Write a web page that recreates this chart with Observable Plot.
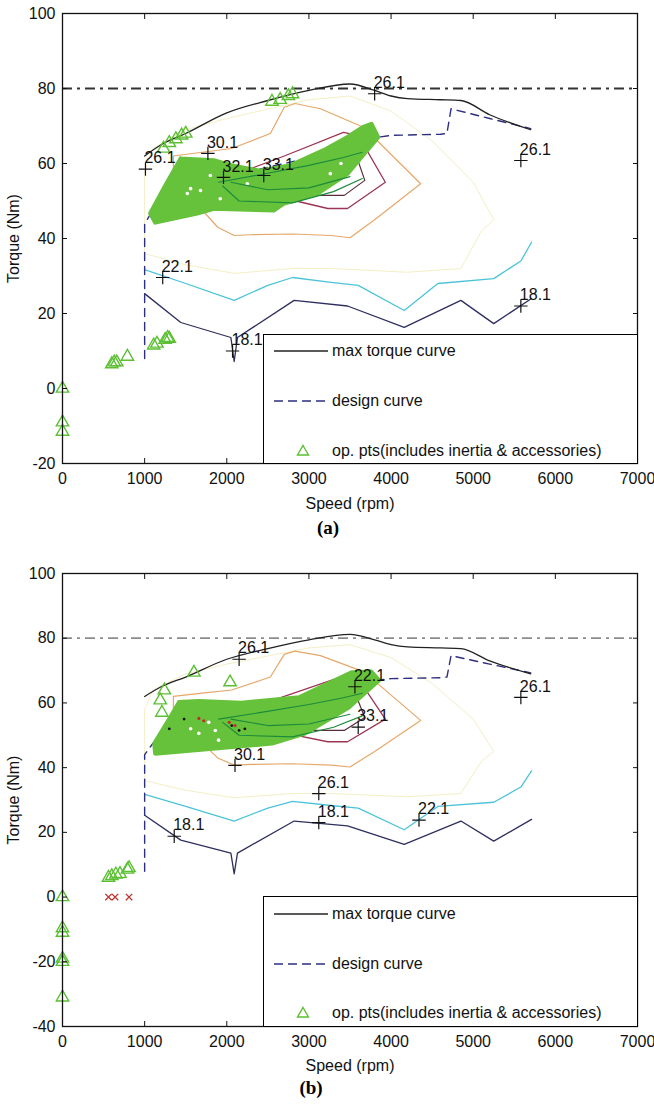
<!DOCTYPE html>
<html>
<head>
<meta charset="utf-8">
<script src="https://cdn.jsdelivr.net/npm/d3@7"></script>
<script src="https://cdn.jsdelivr.net/npm/@observablehq/plot@0.6"></script>
<style>
  body { margin: 0; background: #fff; font-family: "Liberation Sans", Arial, sans-serif; }
  #page { position: relative; width: 654px; height: 1104px; overflow: hidden; background: #fff; }
  .panel { position: absolute; left: 0; }
  .legend { position: absolute; border: 1px solid #000; background: #fff; box-sizing: border-box; }
  .legend .row { position: absolute; left: 0; height: 20px; width: 100%; }
  .legend .row svg { position: absolute; left: 0; top: 0; }
  .legend .row span { position: absolute; left: 68px; top: 0; line-height: 20px; font-size: 16px; color: #111; white-space: nowrap; }
  .cap { position: absolute; font-family: "Liberation Serif", "Times New Roman", serif; font-weight: bold; font-size: 19px; transform: translate(-50%, -50%); }
</style>
</head>
<body>
<div id="page"></div>
<script>
// ---------- axes ----------
const xTicks = [0, 1000, 2000, 3000, 4000, 5000, 6000, 7000];
const yTicksA = [-20, 0, 20, 40, 60, 80, 100];
const yTicksB = [-40, -20, 0, 20, 40, 60, 80, 100];
const refTorque = [80];

// ---------- shared curves (speed rpm, torque Nm) ----------
const maxTorqueSpeed = [1000, 1200, 1500, 2000, 2500, 3000, 3500, 3800, 4000, 4200, 4600, 4850, 5200, 5700];
const maxTorqueNm    = [62, 65, 68, 73.5, 76.8, 79.5, 81.2, 79.5, 78, 77.3, 77, 76.8, 73, 69];

const designSpeed = [1000, 1000, 1100, 1400, 1800, 2300, 2800, 3300, 3700, 3840, 4000, 4600, 4680, 4730, 5200, 5700];
const designNm    = [8, 44, 47.5, 52, 55, 58, 60.5, 63, 65, 67, 67.5, 67.8, 68, 74.6, 72, 69.3];

const orangeSpeed = [1350, 1350, 1700, 2060, 2530, 2700, 2830, 3140, 3670, 4360, 3800, 3500, 3270, 2800, 2290, 2090, 1890, 1600, 1350];
const orangeNm    = [58, 62, 63, 64, 68, 75, 76, 74.6, 69.6, 54.6, 45, 40.2, 40.8, 41.2, 41, 40.8, 43, 50, 58];

const maroonSpeed = [2010, 2700, 3420, 3600, 3930, 3470, 3230, 2650, 2200, 2010];
const maroonNm    = [56.3, 62, 68.3, 67.5, 55, 48, 48, 51, 54, 56.3];

const innerSpeed = [2100, 2800, 3450, 3570, 3680, 3430, 3000, 2500, 2100];
const innerNm    = [55, 58.5, 62, 62.5, 55.5, 51.5, 51.5, 52.5, 55];

const yellowSpeed = [1000, 1000, 1100, 1500, 2000, 3000, 3500, 4000, 4500, 5000, 5250, 5100, 4850, 4200, 3270, 2800, 2090, 1500, 1000];
const yellowNm    = [36, 58, 64, 69, 72, 77, 78, 74, 66, 55, 45, 42, 32, 31, 32, 32, 30.7, 33, 36];

const cyanSpeed = [1000, 1500, 2090, 2500, 2800, 3270, 3600, 4160, 4570, 5250, 5580, 5710];
const cyanNm    = [31.7, 28, 23.5, 27.5, 29.6, 28.3, 27.5, 20.8, 28, 29.3, 34, 39];

const navySpeed = [1000, 1440, 2050, 2090, 2130, 2820, 3470, 4160, 4850, 5250, 5710];
const navyNm    = [25.3, 17.6, 13.6, 7.2, 13.6, 23.5, 22, 16.3, 23.5, 17.3, 24];

const green1Speed = [1900, 2400, 3000, 3420, 3650];
const green1Nm    = [55, 57, 59.5, 61.6, 63];
const green2Speed = [1950, 2150, 2800, 3300, 3650];
const green2Nm    = [54, 50, 49.5, 52.5, 56];
const green3Speed = [2050, 2500, 3000, 3500];
const green3Nm    = [55, 53, 53.5, 56.5];

// ---------- panel (a) ----------
const bandASpeed = [1440, 1840, 2050, 2400, 2780, 3180, 3470, 3670, 3760, 3840, 3670, 3470, 3100, 2690, 2570, 1840, 1640, 1130, 1070, 1250];
const bandANm    = [61.3, 60.8, 59.5, 58, 59.5, 63.5, 67, 69.8, 70.5, 67, 62.6, 57.3, 52, 49.3, 47.5, 48, 46.7, 44.3, 46.7, 54];

const opASpeed = [1230, 1300, 1380, 1450, 1500, 2550, 2650, 2750, 2800, 600, 630, 660, 790, 1110, 1150, 1250, 1280, 1300, 0, 0, 0];
const opANm    = [64, 65.5, 66.5, 67.5, 68, 76.5, 77, 78, 78.5, 6.5, 7, 7, 8.5, 11.5, 12, 13, 13.5, 13.3, 0, -9, -11.5];

const holeASpeed = [1560, 1680, 1800, 1920, 1520, 3260, 3390, 2250];
const holeANm    = [53.3, 52.8, 56.8, 50.6, 52, 57.3, 60, 54.6];

const plusASpeed = [1010, 1770, 1960, 2450, 3800, 5580, 1220, 2070, 5580];
const plusANm    = [58.5, 62.7, 56.3, 56.8, 78.6, 60.8, 29.6, 10, 22];
const plusALabel = ["26.1", "30.1", "32.1", "33.1", "26.1", "26.1", "22.1", "18.1", "18.1"];

// ---------- panel (b) ----------
const bandBSpeed = [1420, 1660, 2180, 2880, 3520, 3760, 3850, 3480, 2950, 2550, 1860, 1130, 1120, 1300];
const bandBNm    = [60.2, 60.5, 60, 61.7, 69.4, 69.6, 67, 58.6, 50.6, 47.5, 46, 44.4, 47.5, 55];

const opBSpeed = [1240, 1190, 1210, 1600, 2040, 560, 600, 650, 700, 790, 810, 0, 0, 0, 0, 0, 0];
const opBNm    = [63.9, 60.8, 57, 69.4, 66.4, 6, 6.5, 7, 7.2, 8.5, 9, 0, -9.6, -11, -19, -20, -31];

const crossBSpeed = [560, 640, 810];
const crossBNm    = [0, 0, 0];

const holeBSpeed = [1780, 1860, 1660, 1900, 1560];
const holeBNm    = [54, 51.5, 50.6, 48.5, 52];
const redBSpeed = [1660, 2030, 2100, 1720];
const redBNm    = [55.2, 54, 53, 54.5];
const blackBSpeed = [2220, 1300, 1480, 2060, 2150];
const blackBNm    = [52, 52, 55, 53, 51.5];

const plusBSpeed = [2150, 3560, 3600, 5580, 2100, 3120, 3120, 4340, 1360];
const plusBNm    = [73.5, 65, 52.5, 61.7, 40.7, 32, 23, 23.8, 18.8];
const plusBLabel = ["26.1", "22.1", "33.1", "26.1", "30.1", "26.1", "18.1", "22.1", "18.1"];

// ---------- legend ----------
const legendLabels = ["max torque curve", "design curve", "op. pts(includes inertia & accessories)"];

// ---------- helpers ----------
const pts = (xs, ys, extra) => xs.map((x, i) => ({x, y: ys[i], ...(extra ? {label: extra[i]} : {})}));
const closed = (xs, ys) => { const p = pts(xs, ys); p.push(p[0]); return p; };

const GREEN = "#66c23a";
const TRI = "#5cbf34";

function makePanel(o) {
  return Plot.plot({
    width: 654,
    height: o.height,
    marginLeft: 62,
    marginRight: 17,
    marginTop: o.marginTop,
    marginBottom: o.marginBottom,
    style: {fontFamily: "'Liberation Sans', Arial, sans-serif", fontSize: "16px", color: "#111", background: "transparent", overflow: "visible"},
    x: {domain: [0, 7000]},
    y: {domain: o.yDomain},
    marks: [
      Plot.line(closed(yellowSpeed, yellowNm), {x: "x", y: "y", stroke: "#f4efc6", strokeWidth: 1}),
      Plot.line(pts(cyanSpeed, cyanNm), {x: "x", y: "y", stroke: "#4cc3d9", strokeWidth: 1.3}),
      Plot.line(pts(navySpeed, navyNm), {x: "x", y: "y", stroke: "#2e2f5e", strokeWidth: 1.3}),
      Plot.line(closed(orangeSpeed, orangeNm), {x: "x", y: "y", stroke: "#e6a76a", strokeWidth: 1.2}),
      Plot.line(closed(maroonSpeed, maroonNm), {x: "x", y: "y", stroke: "#9c3553", strokeWidth: 1.3}),
      Plot.line(closed(innerSpeed, innerNm), {x: "x", y: "y", stroke: "#5a2b3b", strokeWidth: 1.2}),
      Plot.ruleY(refTorque, {stroke: o.refColor, strokeWidth: o.refWidth, strokeDasharray: "10,5,3,5"}),
      Plot.line(pts(designSpeed, designNm), {x: "x", y: "y", stroke: "#2c2f80", strokeWidth: 1.4, strokeDasharray: "8,6"}),
      Plot.line(pts(maxTorqueSpeed, maxTorqueNm), {x: "x", y: "y", stroke: "#222", strokeWidth: 1.3, curve: "monotone-x"}),
      Plot.line(closed(o.bandSpeed, o.bandNm), {x: "x", y: "y", fill: GREEN, stroke: GREEN, strokeWidth: 4.5, strokeLinejoin: "round"}),
      Plot.dot(pts(o.holeSpeed, o.holeNm), {x: "x", y: "y", r: 1.8, fill: "#fff", stroke: "none"}),
      Plot.line(pts(green1Speed, green1Nm), {x: "x", y: "y", stroke: "#1c8a3c", strokeWidth: 1.1}),
      Plot.line(pts(green2Speed, green2Nm), {x: "x", y: "y", stroke: "#1c8a3c", strokeWidth: 1.1}),
      Plot.line(pts(green3Speed, green3Nm), {x: "x", y: "y", stroke: "#1c8a3c", strokeWidth: 1.1}),
      ...(o.extraMarks || []),
      Plot.dot(pts(o.opSpeed, o.opNm), {x: "x", y: "y", symbol: "triangle", r: 4.6, stroke: TRI, strokeWidth: 1.4, fill: "none"}),
      Plot.dot(pts(o.plusSpeed, o.plusNm), {x: "x", y: "y", symbol: "plus", r: 4.4, stroke: "#111", strokeWidth: 1.2}),
      Plot.text(pts(o.plusSpeed, o.plusNm, o.plusLabel), {x: "x", y: "y", text: "label", textAnchor: "start", dx: -1, dy: -11, fontSize: 16, fill: "#111"}),
      Plot.frame({stroke: "#111", strokeWidth: 1.3}),
      Plot.axisX(xTicks, {anchor: "bottom", tickSize: -5, tickPadding: 14, tickFormat: d => String(d), label: "Speed (rpm)", labelAnchor: "center", labelArrow: "none", labelOffset: o.xLabelOffset, fontSize: 16}),
      Plot.axisX(xTicks, {anchor: "top", tickSize: -5, fill: "none", label: null}),
      Plot.axisY(o.yTicks, {anchor: "left", tickSize: -5, tickPadding: 12, tickFormat: d => String(d), label: "Torque (Nm)", labelAnchor: "center", labelArrow: "none", labelOffset: 55, fontSize: 16}),
      Plot.axisY(o.yTicks, {anchor: "right", tickSize: -5, fill: "none", label: null})
    ]
  });
}

const page = document.getElementById("page");

function addPanel(top, plot) {
  const d = document.createElement("div");
  d.className = "panel";
  d.style.top = top + "px";
  d.appendChild(plot);
  page.appendChild(d);
}

function addLegend(left, top, width, height, rows) {
  const lg = document.createElement("div");
  lg.className = "legend";
  Object.assign(lg.style, {left: left + "px", top: top + "px", width: width + "px", height: height + "px"});
  const samples = [
    `<line x1="10" y1="10" x2="64" y2="10" stroke="#222" stroke-width="1.4"/>`,
    `<line x1="10" y1="10" x2="64" y2="10" stroke="#2c2f80" stroke-width="1.4" stroke-dasharray="9,5"/>`,
    `<path d="M39,4.5 L44.5,14 L33.5,14 Z" fill="none" stroke="${TRI}" stroke-width="1.4"/>`
  ];
  legendLabels.forEach((t, i) => {
    const r = document.createElement("div");
    r.className = "row";
    r.style.top = (rows[i] - 10) + "px";
    r.innerHTML = `<svg width="70" height="20">${samples[i]}</svg><span></span>`;
    r.querySelector("span").textContent = t;
    lg.appendChild(r);
  });
  page.appendChild(lg);
}

function addCaption(x, y, text) {
  const c = document.createElement("div");
  c.className = "cap";
  c.style.left = x + "px";
  c.style.top = y + "px";
  c.textContent = text;
  page.appendChild(c);
}

// panel (a)
addPanel(0, makePanel({
  height: 510, marginTop: 13, marginBottom: 47, yDomain: [-20, 100], yTicks: yTicksA,
  refColor: "#333", refWidth: 2, xLabelOffset: 45,
  bandSpeed: bandASpeed, bandNm: bandANm, holeSpeed: holeASpeed, holeNm: holeANm,
  opSpeed: opASpeed, opNm: opANm,
  plusSpeed: plusASpeed, plusNm: plusANm, plusLabel: plusALabel
}));
addLegend(263, 334, 375, 130, [16, 66, 116]);
addCaption(328, 528, "(a)");

// panel (b)
addPanel(540, makePanel({
  height: 545, marginTop: 33, marginBottom: 59, yDomain: [-40, 100], yTicks: yTicksB,
  refColor: "#8c8c8c", refWidth: 1.7, xLabelOffset: 44,
  bandSpeed: bandBSpeed, bandNm: bandBNm, holeSpeed: holeBSpeed, holeNm: holeBNm,
  opSpeed: opBSpeed, opNm: opBNm,
  plusSpeed: plusBSpeed, plusNm: plusBNm, plusLabel: plusBLabel,
  extraMarks: [
    Plot.dot(pts(redBSpeed, redBNm), {x: "x", y: "y", r: 1.6, fill: "#c0302a"}),
    Plot.dot(pts(blackBSpeed, blackBNm), {x: "x", y: "y", r: 1.4, fill: "#111"}),
    Plot.dot(pts(crossBSpeed, crossBNm), {x: "x", y: "y", symbol: "times", r: 3, stroke: "#c0302a", strokeWidth: 1.3})
  ]
}));
addLegend(263, 896, 375, 131, [17, 67, 116]);
addCaption(311, 1088, "(b)");
</script>
</body>
</html>
